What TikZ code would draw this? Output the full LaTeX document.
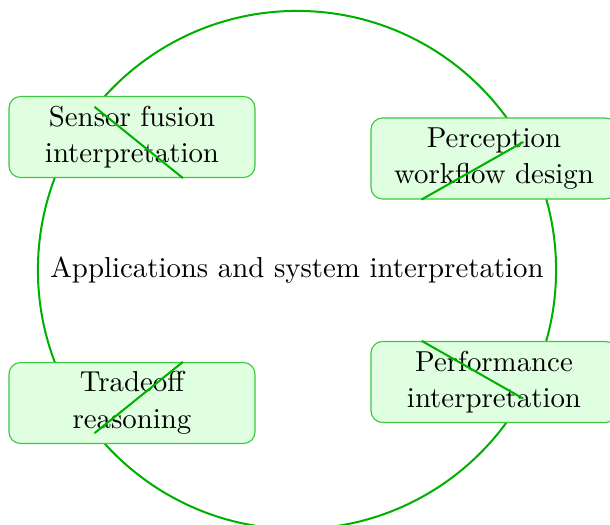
\documentclass[tikz,border=0pt]{standalone}
\usetikzlibrary{positioning}
\definecolor{ringgreen}{RGB}{0,176,0}
\definecolor{boxedge}{RGB}{60,200,60}
\definecolor{boxfill}{RGB}{224,255,224}
\begin{document}
\begin{tikzpicture}[x=0.3468pt,y=-0.3468pt,
  hub/.style={circle,draw=ringgreen,line width=0.7pt,minimum size=179.7pt,inner sep=0pt},
  topic/.style={rectangle,rounded corners=4pt,draw=boxedge,line width=0.4pt,fill=boxfill,
    minimum width=85.3pt,minimum height=28.1pt,align=center,inner sep=2pt,
    font=\linespread{1.06}\selectfont},
  link/.style={draw=ringgreen,line width=0.7pt}]
  \useasboundingbox (0,0) rectangle (610,525);
  % central ring with its title
  \node[hub] (c) at (297,270) {Applications and system interpretation};
  % four topic boxes around the ring
  \node[topic] (sf) at (132,137) {Sensor fusion\\interpretation};
  \node[topic] (pw) at (494,158.5) {Perception\\workflow design};
  \node[topic] (tr) at (132,403) {Tradeoff\\reasoning};
  \node[topic] (pi) at (494,382) {Performance\\interpretation};
  % spokes from the ring to each box
  \draw[link] (c) -- (sf);
  \draw[link] (c) -- (pw);
  \draw[link] (c) -- (tr);
  \draw[link] (c) -- (pi);
\end{tikzpicture}
\end{document}
